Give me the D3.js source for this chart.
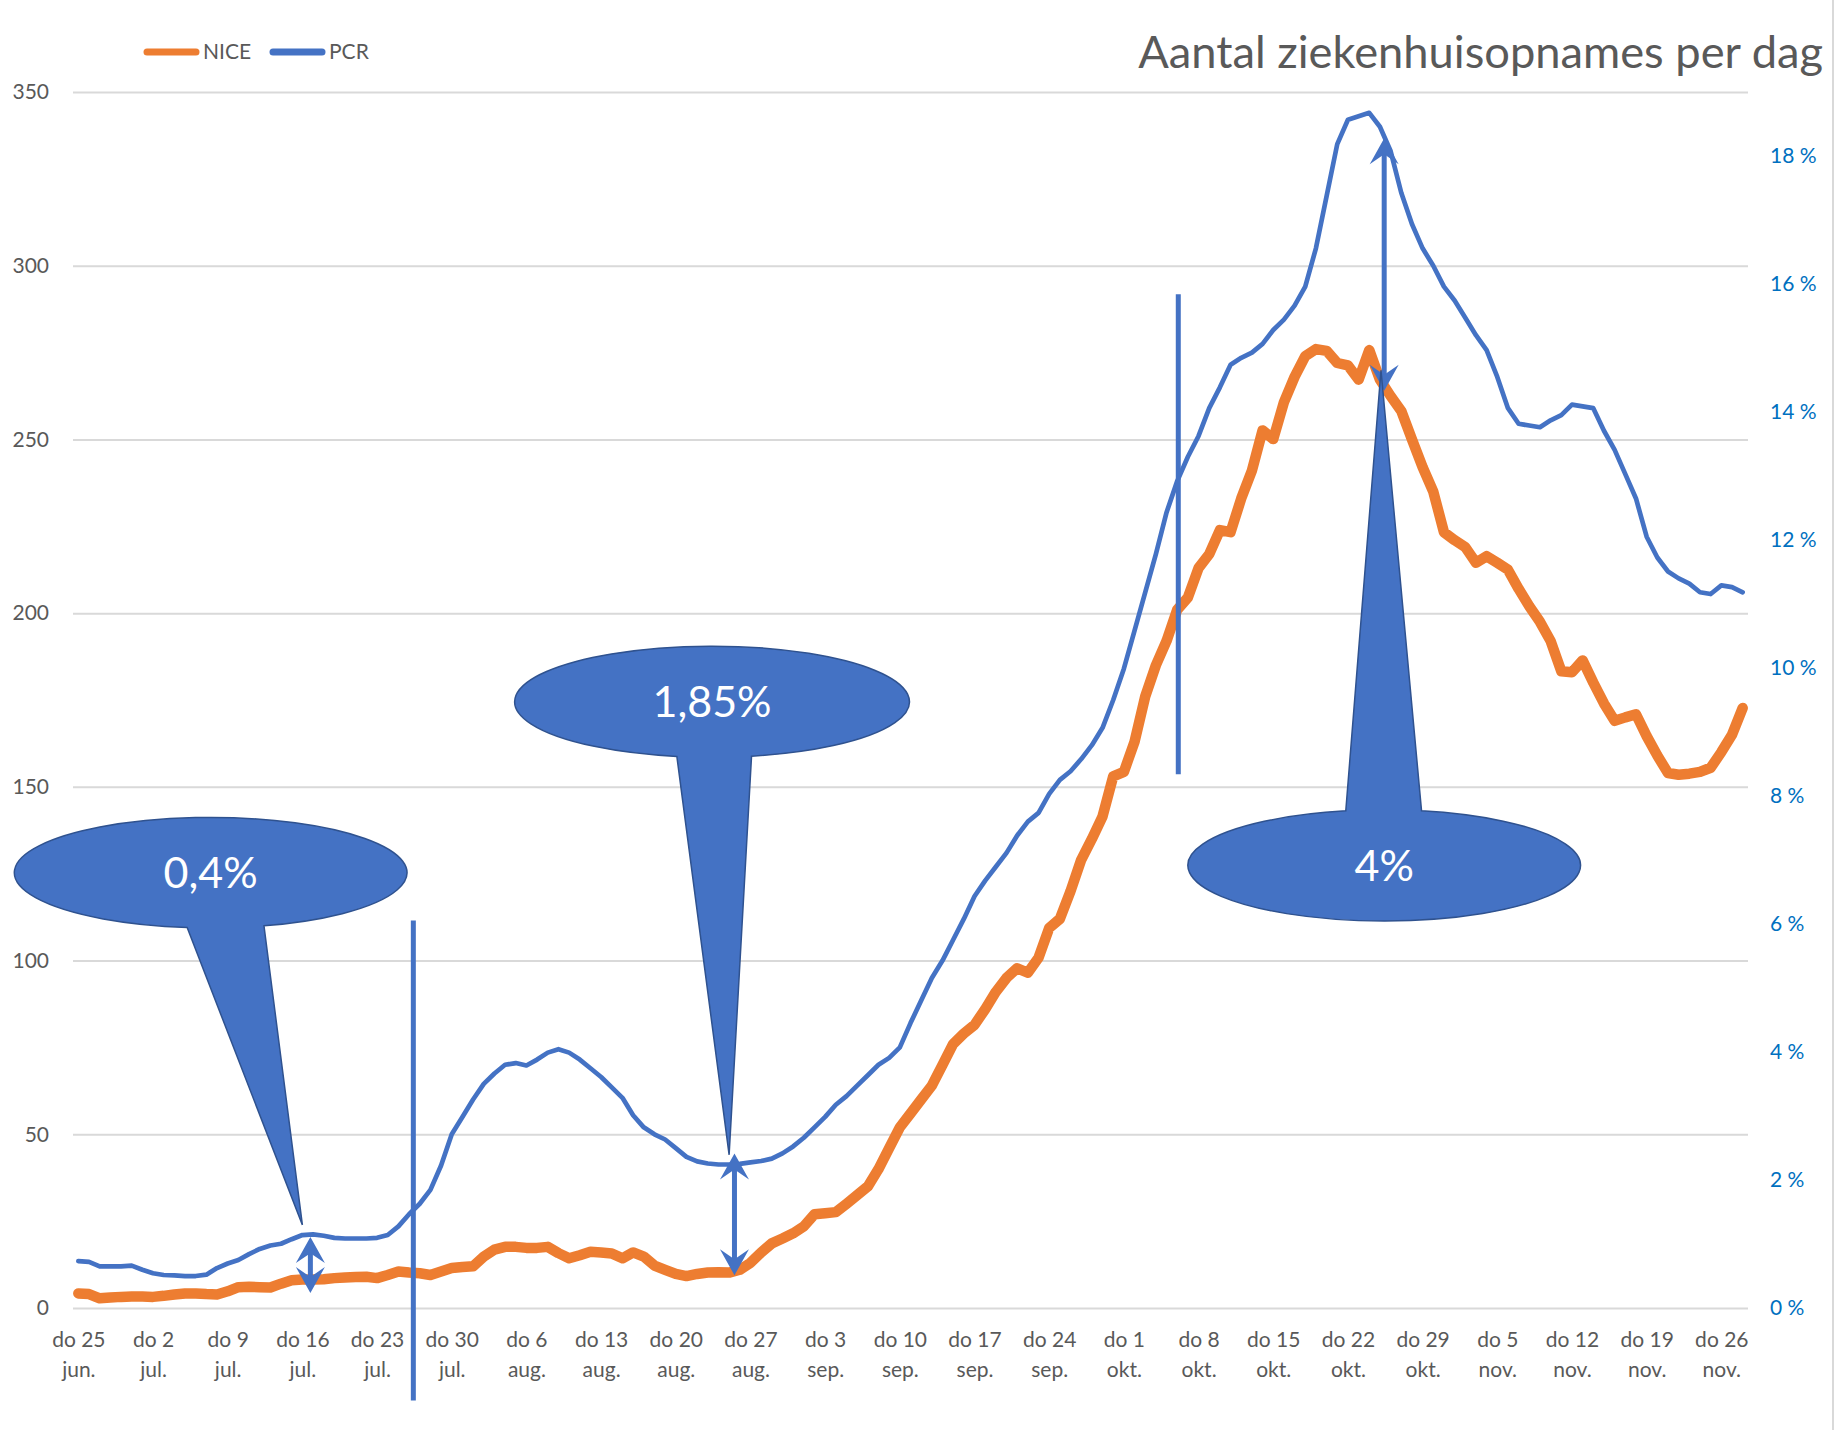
<!DOCTYPE html>
<html>
<head>
<meta charset="utf-8">
<script src="https://cdn.jsdelivr.net/npm/d3@7"></script>
<style>
  body { margin: 0; background: #fff; }
  svg { display: block; }
  text { font-family: Lato, "Open Sans", sans-serif; }
</style>
</head>
<body>
<div id="chart"></div>
<script>
// weekly category labels (every 7th day, starting do 25 jun.)
var weekLabels = [
  ["do 25", "jun."], ["do 2", "jul."], ["do 9", "jul."], ["do 16", "jul."], ["do 23", "jul."],
  ["do 30", "jul."], ["do 6", "aug."], ["do 13", "aug."], ["do 20", "aug."], ["do 27", "aug."],
  ["do 3", "sep."], ["do 10", "sep."], ["do 17", "sep."], ["do 24", "sep."], ["do 1", "okt."],
  ["do 8", "okt."], ["do 15", "okt."], ["do 22", "okt."], ["do 29", "okt."], ["do 5", "nov."],
  ["do 12", "nov."], ["do 19", "nov."], ["do 26", "nov."]
];

// daily hospital admissions, 25 jun - 28 nov
var nice = [
  4.2, 4, 2.8, 3, 3.2, 3.3, 3.3, 3.2, 3.5, 3.9,
  4.2, 4.2, 4, 3.9, 4.8, 6, 6.1, 6, 5.9, 7,
  8, 8.2, 8.2, 8.3, 8.6, 8.8, 8.9, 9, 8.6, 9.5,
  10.5, 10.2, 10, 9.5, 10.5, 11.5, 11.8, 12, 14.8, 16.8,
  17.6, 17.6, 17.3, 17.3, 17.6, 15.8, 14.3, 15.2, 16.2, 16,
  15.7, 14.3, 16, 14.8, 12.2, 11, 9.8, 9.2, 9.8, 10.2,
  10.3, 10.2, 11, 13, 16, 18.6, 20, 21.5, 23.5, 27,
  27.3, 27.6, 30, 32.5, 35, 40, 46, 52, 56, 60,
  64, 70, 76, 79, 81.5, 86, 91, 95, 97.8, 96.5,
  100.8, 109.4, 112, 120, 129, 135, 141.5, 153, 154.3, 163,
  176, 185, 192, 201, 204.5, 213, 217, 223.9, 223.3, 233,
  241, 252.6, 250.1, 260.7, 268, 274, 276, 275.5, 272, 271.3,
  267.2, 275.7, 267.2, 262.5, 258.2, 250, 242, 235, 223.3, 221,
  219, 214.5, 216.4, 214.5, 212.5, 207, 202, 197.5, 192, 183.3,
  183, 186.4, 180, 174, 169, 170, 170.9, 164.6, 159, 154,
  153.5, 153.8, 154.3, 155.5, 160, 165, 172.7
];

var pcr = [
  13.5, 13.3, 12, 12, 12, 12.2, 11, 10, 9.5, 9.4,
  9.2, 9.2, 9.6, 11.5, 12.8, 13.8, 15.5, 17, 18, 18.5,
  19.8, 21, 21.2, 20.8, 20.2, 20, 20, 20, 20.2, 21,
  23.5, 27, 30, 34, 41, 50, 55, 60, 64.5, 67.5,
  70, 70.5, 69.8, 71.5, 73.5, 74.5, 73.5, 71.5, 69, 66.5,
  63.5, 60.5, 55.5, 52, 50, 48.5, 46, 43.5, 42.2, 41.6,
  41.3, 41.3, 41.5, 41.9, 42.3, 43, 44.5, 46.5, 49, 52,
  55, 58.5, 61, 64, 67, 70, 72, 75, 82, 88.5,
  95, 100, 106, 112, 118.5, 123, 127, 131, 136, 140,
  142.5, 148, 152, 154.5, 158, 162, 167, 175, 184, 195,
  206, 217, 229, 238, 245, 251, 259, 265, 271.5, 273.5,
  275, 277.5, 281.5, 284.5, 288.5, 294, 305, 320, 335, 342,
  343, 344, 340, 333, 321, 312, 305, 300, 294, 290,
  285, 280, 275.7, 268, 259, 254.5, 254, 253.5, 255.5, 257,
  260, 259.5, 259, 252.5, 247, 240, 233, 222, 216, 212,
  210, 208.5, 206, 205.5, 208, 207.5, 206
];

var leftTicks = [0, 50, 100, 150, 200, 250, 300, 350];
var rightTicks = [0, 2, 4, 6, 8, 10, 12, 14, 16, 18];

// annotations, placed in data units (day index, admissions)
var callouts = [
  { label: "0,4%",  day: 12.4,  value: 125.3, halfDays: 18.4, halfValue: 15.9, base: [10.2, 17.4],  tip: [21, 23.9] },
  { label: "1,85%", day: 59.4,  value: 174.5, halfDays: 18.5, halfValue: 16,   base: [56.1, 63.1],  tip: [61, 44.1] },
  { label: "4%",    day: 122.4, value: 127.4, halfDays: 18.4, halfValue: 16,   base: [118.8, 125.9], tip: [122.1, 269.9] }
];
var markerLines = [
  { day: 31.4, from: 111.5, to: -26.6 },
  { day: 103.1, from: 291.8, to: 153.6 }
];
var gapArrows = [
  { day: 21.75, from: 20.4, to: 4.3 },
  { day: 61.5, from: 44.5, to: 9.4 },
  { day: 122.4, from: 336.7, to: 264 }
];

var width = 1836, height = 1430;
var plotLeft = 73, plotRight = 1748, plotTop = 92, plotBottom = 1308;
var grey = "#595959", blue = "#4472C4", orange = "#ED7D31";

var svg = d3.select("#chart").append("svg")
  .attr("width", width)
  .attr("height", height);

var x = d3.scaleLinear().domain([-0.5, pcr.length - 0.5]).range([plotLeft, plotRight]);
var y = d3.scaleLinear().domain([0, 350]).range([plotBottom, plotTop]);
var yR = d3.scaleLinear().domain([0, 19]).range([plotBottom, plotTop]);

// right border of the chart area
svg.append("line")
  .attr("x1", 1833).attr("x2", 1833).attr("y1", 0).attr("y2", height)
  .attr("stroke", "#d9d9d9").attr("stroke-width", 2);

// gridlines
svg.append("g")
  .attr("transform", "translate(" + plotLeft + ",0)")
  .call(d3.axisLeft(y).tickValues(leftTicks).tickSize(-(plotRight - plotLeft)).tickFormat(""))
  .call(function(g) { g.select(".domain").remove(); })
  .selectAll("line")
  .attr("stroke", "#d9d9d9")
  .attr("stroke-width", 2);

// left axis
svg.append("g")
  .attr("transform", "translate(" + plotLeft + ",0)")
  .call(d3.axisLeft(y).tickValues(leftTicks).tickSize(0).tickPadding(24))
  .call(function(g) { g.select(".domain").remove(); })
  .selectAll("text")
  .attr("fill", grey)
  .style("font-size", "21px")
  .style("font-family", "Lato, sans-serif");

// right axis (percent)
svg.append("g")
  .attr("transform", "translate(" + plotRight + ",0)")
  .call(d3.axisRight(yR).tickValues(rightTicks).tickSize(0).tickPadding(22)
    .tickFormat(function(d) { return d + " %"; }))
  .call(function(g) { g.select(".domain").remove(); })
  .selectAll("text")
  .attr("fill", "#0070C0")
  .style("font-size", "21px")
  .style("font-family", "Lato, sans-serif");

// x axis with two-line labels
var xAxis = svg.append("g")
  .attr("transform", "translate(0," + plotBottom + ")")
  .call(d3.axisBottom(x).tickValues(d3.range(0, pcr.length, 7)).tickSize(0).tickFormat(""));
xAxis.select(".domain").remove();
xAxis.selectAll(".tick").each(function(d, i) {
  var t = d3.select(this).append("text")
    .attr("fill", grey)
    .attr("text-anchor", "middle")
    .style("font-size", "21px")
    .style("font-family", "Lato, sans-serif");
  t.append("tspan").attr("x", 0).attr("y", 39).text(weekLabels[i][0]);
  t.append("tspan").attr("x", 0).attr("y", 69).text(weekLabels[i][1]);
});

// lines
var line = d3.line()
  .x(function(d, i) { return x(i); })
  .y(function(d) { return y(d); });

svg.append("path")
  .datum(nice)
  .attr("fill", "none")
  .attr("stroke", orange)
  .attr("stroke-width", 10.5)
  .attr("stroke-linejoin", "round")
  .attr("stroke-linecap", "round")
  .attr("d", line);

svg.append("path")
  .datum(pcr)
  .attr("fill", "none")
  .attr("stroke", blue)
  .attr("stroke-width", 4.7)
  .attr("stroke-linejoin", "round")
  .attr("stroke-linecap", "round")
  .attr("d", line);

// legend
var legend = svg.append("g");
[["NICE", orange, 143], ["PCR", blue, 269]].forEach(function(l) {
  legend.append("line")
    .attr("x1", l[2] + 4).attr("x2", l[2] + 53)
    .attr("y1", 52).attr("y2", 52)
    .attr("stroke", l[1]).attr("stroke-width", 7).attr("stroke-linecap", "round");
  legend.append("text")
    .attr("x", l[2] + 60).attr("y", 59)
    .attr("fill", grey)
    .style("font-size", "21px")
    .text(l[0]);
});

// title, fitted to its width in the original
var title = svg.append("text")
  .attr("x", 1823).attr("y", 68)
  .attr("text-anchor", "end")
  .attr("fill", grey)
  .style("font-size", "48px")
  .text("Aantal ziekenhuisopnames per dag");
var tw = title.node().getComputedTextLength();
title.style("font-size", (48 * 685 / tw) + "px");

// annotation layer
var ann = svg.append("g");

markerLines.forEach(function(m) {
  ann.append("line")
    .attr("x1", x(m.day)).attr("x2", x(m.day))
    .attr("y1", y(m.from)).attr("y2", y(m.to))
    .attr("stroke", blue).attr("stroke-width", 5);
});

function stealth(tx, ty, dir) {
  var L = 26, hw = 14.5;
  return "M" + tx + "," + ty +
    "L" + (tx - hw) + "," + (ty - dir * L) +
    "L" + tx + "," + (ty - dir * L * 0.62) +
    "L" + (tx + hw) + "," + (ty - dir * L) + "Z";
}

gapArrows.forEach(function(a) {
  var ax = x(a.day), y1 = y(a.from), y2 = y(a.to);
  ann.append("line")
    .attr("x1", ax).attr("x2", ax)
    .attr("y1", y1 + 14).attr("y2", y2 - 14)
    .attr("stroke", blue).attr("stroke-width", 5);
  ann.append("path").attr("d", stealth(ax, y1, -1)).attr("fill", blue);
  ann.append("path").attr("d", stealth(ax, y2, 1)).attr("fill", blue);
});

function calloutPath(c) {
  var cx = x(c.day), cy = y(c.value);
  var rx = x(c.day + c.halfDays) - cx, ry = y(c.value - c.halfValue) - cy;
  var tx = x(c.tip[0]), ty = y(c.tip[1]);
  var down = ty > cy;
  var pts = c.base.map(function(b) {
    var bx = x(b);
    var dy = ry * Math.sqrt(1 - Math.pow((bx - cx) / rx, 2));
    return [bx, down ? cy + dy : cy - dy];
  });
  var a = down ? pts[0] : pts[1], b = down ? pts[1] : pts[0];
  return "M" + a + "A" + rx + "," + ry + " 0 1 1 " + b + "L" + tx + "," + ty + "Z";
}

callouts.forEach(function(c) {
  ann.append("path")
    .attr("d", calloutPath(c))
    .attr("fill", blue)
    .attr("stroke", "#2F528F")
    .attr("stroke-width", 1.5)
    .attr("stroke-linejoin", "miter");
  ann.append("text")
    .attr("x", x(c.day)).attr("y", y(c.value))
    .attr("text-anchor", "middle")
    .attr("dy", "0.36em")
    .attr("fill", "#fff")
    .style("font-size", "43px")
    .text(c.label);
});
</script>
</body>
</html>
